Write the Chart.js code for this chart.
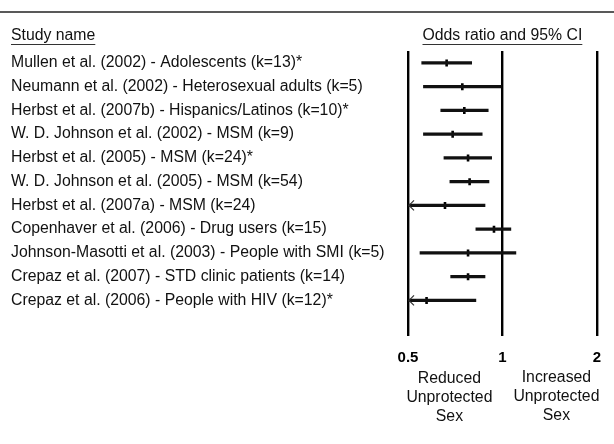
<!DOCTYPE html>
<html>
<head>
<meta charset="utf-8">
<script src="https://cdn.jsdelivr.net/npm/chart.js@4/dist/chart.umd.min.js"></script>
<style>
  html, body { margin: 0; padding: 0; background: #fff; }
  #wrap { width: 614px; height: 444px; }
</style>
</head>
<body>
<div id="wrap"><canvas id="forest"></canvas></div>
<script>
// Studies (rows, top to bottom)
const studies = [
  "Mullen et al. (2002) - Adolescents (k=13)*",
  "Neumann et al. (2002) - Heterosexual adults (k=5)",
  "Herbst et al. (2007b) - Hispanics/Latinos (k=10)*",
  "W. D. Johnson et al. (2002) - MSM (k=9)",
  "Herbst et al. (2005) - MSM (k=24)*",
  "W. D. Johnson et al. (2005) - MSM (k=54)",
  "Herbst et al. (2007a) - MSM (k=24)",
  "Copenhaver et al. (2006) - Drug users (k=15)",
  "Johnson-Masotti et al. (2003) - People with SMI (k=5)",
  "Crepaz et al. (2007) - STD clinic patients (k=14)",
  "Crepaz et al. (2006) - People with HIV (k=12)*"
];

// Odds ratio and 95% CI
const oddsRatio = [0.664, 0.745, 0.756, 0.694, 0.777, 0.786, 0.656, 0.94, 0.777, 0.777, 0.573];
const ciLower   = [0.553, 0.56, 0.636, 0.56, 0.651, 0.68, 0.45, 0.823, 0.546, 0.684, 0.42];
const ciUpper   = [0.798, 0.99, 0.901, 0.862, 0.924, 0.906, 0.88, 1.064, 1.104, 0.88, 0.823];

const tickValues = [0.5, 1, 2];
const axisMin = 0.5;
const axisMax = 2;

const FONT = '"Liberation Sans", Arial, Helvetica, sans-serif';
Chart.defaults.font.family = FONT;
Chart.defaults.color = "#111";

// header, footer captions and the left arrows for CIs that run off the axis
const decor = {
  id: "decor",
  afterDraw(chart) {
    const ctx = chart.ctx;
    const area = chart.chartArea;
    const xs = chart.scales.x;
    const ys = chart.scales.y;
    ctx.save();

    // top rule
    ctx.strokeStyle = "#222";
    ctx.lineWidth = 1.5;
    ctx.beginPath();
    ctx.moveTo(0, 12);
    ctx.lineTo(chart.width, 12);
    ctx.stroke();

    // column headers, underlined
    ctx.fillStyle = "#111";
    ctx.font = "15.8px " + FONT;
    ctx.textBaseline = "middle";
    ctx.textAlign = "left";
    const h1 = "Study name";
    ctx.fillText(h1, 11, 36);
    const w1 = ctx.measureText(h1).width;
    const h2 = "Odds ratio and 95% CI";
    const w2 = ctx.measureText(h2).width;
    const cx = (area.left + area.right) / 2;
    ctx.textAlign = "center";
    ctx.fillText(h2, cx, 36);
    ctx.lineWidth = 1;
    ctx.strokeStyle = "#333";
    ctx.beginPath();
    ctx.moveTo(11, 44.5); ctx.lineTo(11 + w1, 44.5);
    ctx.moveTo(cx - w2 / 2, 44.5); ctx.lineTo(cx + w2 / 2, 44.5);
    ctx.stroke();

    // captions under the axis
    const one = xs.getPixelForValue(1);
    const left = ["Reduced", "Unprotected", "Sex"];
    const right = ["Increased", "Unprotected", "Sex"];
    left.forEach((t, i) => ctx.fillText(t, one - 53, 379 + i * 19));
    right.forEach((t, i) => ctx.fillText(t, one + 54, 377.5 + i * 19));

    // arrow heads where the lower limit is below the axis minimum
    ctx.strokeStyle = "#333";
    ctx.lineWidth = 1.2;
    ciLower.forEach((lo, i) => {
      if (lo >= axisMin) return;
      const x = xs.getPixelForValue(axisMin) + 1;
      const y = ys.getPixelForValue(i);
      ctx.beginPath();
      ctx.moveTo(x + 5, y - 5);
      ctx.lineTo(x, y);
      ctx.lineTo(x + 5, y + 5);
      ctx.stroke();
    });
    ctx.restore();
  }
};

new Chart(document.getElementById("forest"), {
  type: "bar",
  data: {
    labels: studies.concat([""]),
    datasets: [
      {
        label: "95% CI",
        data: ciLower.map((lo, i) => [lo, ciUpper[i]]),
        backgroundColor: "#111",
        borderWidth: 0,
        barThickness: 2.6,
        clip: 0
      },
      {
        type: "line",
        label: "Odds ratio",
        indexAxis: "y",
        data: oddsRatio,
        showLine: false,
        pointStyle: "line",
        rotation: 90,
        pointRadius: 3.5,
        pointBorderWidth: 2.6,
        pointBorderColor: "#000",
        pointBackgroundColor: "#000"
      }
    ]
  },
  options: {
    indexAxis: "y",
    responsive: true,
    maintainAspectRatio: false,
    animation: false,
    layout: { padding: { left: 11, right: 17, top: 51, bottom: 0 } },
    plugins: {
      legend: { display: false },
      tooltip: { enabled: false }
    },
    scales: {
      x: {
        type: "logarithmic",
        min: axisMin,
        max: axisMax,
        afterBuildTicks: (scale) => {
          scale.ticks = tickValues.map(v => ({ value: v }));
        },
        afterFit: (scale) => { scale.height = 108; },
        grid: { color: "#000", lineWidth: 2.4, drawTicks: false },
        border: { display: false },
        ticks: {
          padding: 13,
          color: "#000",
          font: { size: 15, weight: "bold" },
          callback: (v) => String(v),
          maxRotation: 0,
          autoSkip: false
        }
      },
      y: {
        afterFit: (scale) => { scale.width = 397; },
        grid: { display: false },
        border: { display: false },
        ticks: {
          crossAlign: "far",
          color: "#111",
          font: { size: 15.8 },
          autoSkip: false
        }
      }
    }
  },
  plugins: [decor]
});
</script>
</body>
</html>
